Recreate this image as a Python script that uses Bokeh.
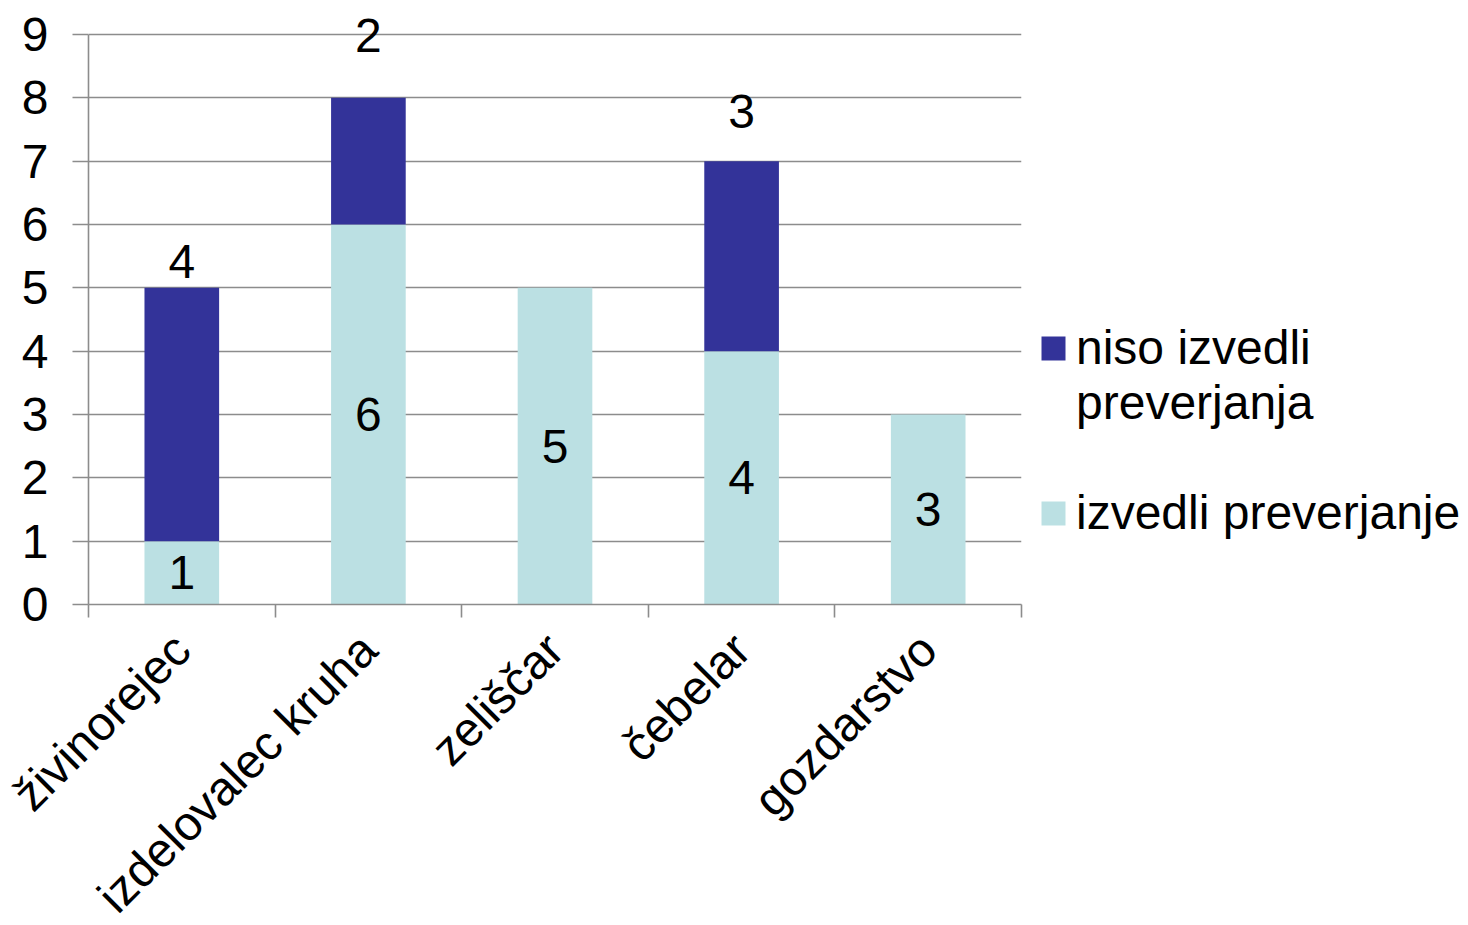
import math
from bokeh.plotting import figure
from bokeh.models import (ColumnDataSource, FixedTicker, Legend, LegendItem,
                          LabelSet, Range1d)
from bokeh.core.properties import value
from bokeh.embed import file_html
from bokeh.resources import INLINE

categories = ["živinorejec", "izdelovalec kruha", "zeliščar", "čebelar", "gozdarstvo"]
izvedli = [1, 6, 5, 4, 3]
niso = [4, 2, 0, 3, 0]
y_ticks = [0, 1, 2, 3, 4, 5, 6, 7, 8, 9]

# label offsets (px) above stacked bar top, as in the original
niso_label_offset = [26, 62, 0, 50, 0]

DARK = "#333399"
LIGHT = "#BBE0E3"
GRID = "#8C8C8C"
FONT = "Liberation Sans"
FS = "48px"

xc = [i + 0.5 for i in range(len(categories))]
tops = [a + b for a, b in zip(izvedli, niso)]
src = ColumnDataSource(dict(
    x=xc,
    izvedli=izvedli,
    top=tops,
    mid=[v / 2 for v in izvedli],
    ilab=[str(v) if v else "" for v in izvedli],
    nlab=[str(v) if v else "" for v in niso],
    noff=niso_label_offset,
))

p = figure(frame_width=933, frame_height=595,
           x_range=Range1d(0, len(categories)), y_range=Range1d(0, 9.395),
           output_backend="svg", toolbar_location=None,
           min_border_left=88, min_border_top=9,
           min_border_right=439, min_border_bottom=313)

r1 = p.vbar(x="x", bottom=0, top="izvedli", width=0.4, fill_color=LIGHT,
            line_color=None, source=src)
r2 = p.vbar(x="x", bottom="izvedli", top="top", width=0.4, fill_color=DARK,
            line_color=None, source=src)
dummy = p.vbar(x=[], top=[], width=0.4, fill_alpha=0, line_alpha=0)

p.add_layout(LabelSet(x="x", y="mid", text="ilab", source=src,
                      text_align="center", text_baseline="middle",
                      text_font=value(FONT), text_font_size=value(FS),
                      text_color="black"))
p.add_layout(LabelSet(x="x", y="top", text="nlab", source=src, y_offset="noff",
                      text_align="center", text_baseline="middle",
                      text_font=value(FONT), text_font_size=value(FS),
                      text_color="black"))

p.outline_line_color = None
p.xgrid.grid_line_color = None
p.ygrid.grid_line_color = GRID
p.ygrid.grid_line_width = 1.6

p.yaxis.ticker = FixedTicker(ticks=y_ticks)
p.yaxis.bounds = (0, 9)
p.yaxis.axis_line_color = GRID
p.yaxis.axis_line_width = 1.6
p.yaxis.major_tick_line_color = GRID
p.yaxis.major_tick_line_width = 1.6
p.yaxis.major_tick_out = 16
p.yaxis.major_tick_in = 0
p.yaxis.minor_tick_line_color = None
p.yaxis.major_label_text_font = FONT
p.yaxis.major_label_text_font_size = FS
p.yaxis.major_label_text_color = "black"
p.yaxis.major_label_standoff = 24

p.xaxis.ticker = FixedTicker(ticks=xc, minor_ticks=list(range(len(categories) + 1)))
p.xaxis.major_label_overrides = {x: c for x, c in zip(xc, categories)}
p.xaxis.axis_line_color = GRID
p.xaxis.axis_line_width = 1.6
p.xaxis.major_tick_line_color = None
p.xaxis.minor_tick_line_color = GRID
p.xaxis.minor_tick_line_width = 1.6
p.xaxis.minor_tick_out = 13
p.xaxis.minor_tick_in = 0
p.xaxis.major_label_orientation = math.pi / 4
p.xaxis.major_label_text_font = FONT
p.xaxis.major_label_text_font_size = FS
p.xaxis.major_label_text_color = "black"
p.xaxis.major_label_standoff = 24

legend = Legend(items=[
    LegendItem(label="niso izvedli", renderers=[r2]),
    LegendItem(label="preverjanja", renderers=[dummy]),
    LegendItem(label=" ", renderers=[dummy]),
    LegendItem(label="izvedli preverjanje", renderers=[r1]),
], location=(17, 64))
legend.label_text_font = FONT
legend.label_text_font_size = FS
legend.label_text_color = "black"
legend.label_height = 55
legend.glyph_width = 30
legend.glyph_height = 30
legend.label_standoff = 8
legend.spacing = 0
legend.border_line_color = None
legend.background_fill_alpha = 0
legend.padding = 0
legend.margin = 0
p.add_layout(legend, "right")

open("out.html", "w").write(file_html(p, INLINE))
